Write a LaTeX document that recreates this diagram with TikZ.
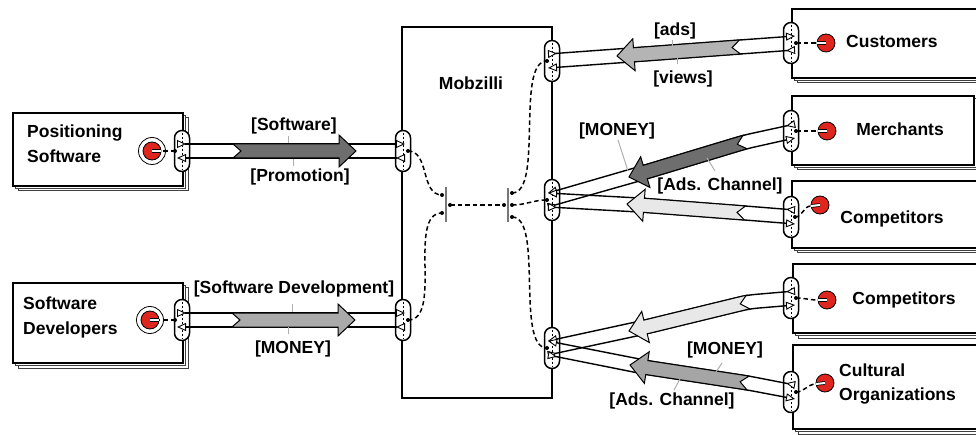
\documentclass[tikz,border=0pt]{standalone}
\usepackage{fontspec}
\setmainfont{Liberation Sans}
\usetikzlibrary{calc,arrows.meta,fit}

\definecolor{sockred}{RGB}{222,38,30}
\definecolor{flowdark}{RGB}{110,110,110}
\definecolor{flowmid}{RGB}{170,170,170}
\definecolor{flowsoft}{RGB}{180,180,180}
\definecolor{flowlight}{RGB}{232,232,232}
\definecolor{flowcult}{RGB}{165,165,165}
\definecolor{leadgray}{RGB}{175,175,175}
\definecolor{bargray}{RGB}{120,120,120}

\tikzset{
  fwd/.tip={Triangle[length=9pt,width=8pt,fill=white,line width=0.9pt]},
  bwd/.tip={Triangle[length=9pt,width=8pt,fill=white,line width=0.9pt,reversed]},
  lbl/.style={font=\fontsize{17.5}{21}\selectfont\bfseries, inner sep=0pt, anchor=base},
  lblw/.style={lbl, anchor=base west},
  actor/.style={draw=black, line width=1.5pt, fill=white, inner sep=0pt},
  sheet/.style={draw=black!75, line width=1pt, fill=white},
  mob/.style={draw=black, line width=1.5pt, inner sep=0pt},
  port/.style={draw=black, line width=1.5pt, fill=white, rectangle, rounded corners=7.4pt,
    minimum width=15pt, minimum height=41pt, inner sep=0pt},
  portmark/.style={draw=black, line width=0.6pt, dash pattern=on 2pt off 2pt},
  chan/.style={draw=black, line width=1.4pt, rounded corners=8pt},
  flowarrow/.style={draw=black, line width=1pt, line join=miter},
  wire/.style={draw=black, line width=1.5pt, dash pattern=on 4.5pt off 3pt},
  jbar/.style={draw=bargray, line width=1.4pt},
  leader/.style={draw=leadgray, line width=1pt},
}

% a box with two stacked sheets behind it
\newcommand{\stackbox}[5]{%
  \draw[sheet] ($(#2,#3)+(5,5)$) rectangle ($(#4,#5)+(5,5)$);
  \draw[sheet] ($(#2,#3)+(2.5,2.5)$) rectangle ($(#4,#5)+(2.5,2.5)$);
  \node[actor, fit={(#2,#3) (#4,#5)}] (#1) {};
}

% geometry of a block arrow: tail centre #2, head tip #3
\newcommand{\flowgeom}[3]{%
  \coordinate (#1-t) at #2;
  \coordinate (#1-h) at #3;
  \coordinate (#1-b) at ($(#1-h)!17pt!(#1-t)$);
  \coordinate (#1-n) at ($(#1-t)!8pt!(#1-h)$);
  \coordinate (#1-tp) at ($(#1-t)!7pt!90:(#1-h)$);
  \coordinate (#1-tm) at ($(#1-t)!7pt!-90:(#1-h)$);
  \coordinate (#1-bp) at ($(#1-b)!7pt!90:(#1-h)$);
  \coordinate (#1-bm) at ($(#1-b)!7pt!-90:(#1-h)$);
  \coordinate (#1-hp) at ($(#1-b)!16pt!90:(#1-h)$);
  \coordinate (#1-hm) at ($(#1-b)!16pt!-90:(#1-h)$);
}
\newcommand{\flowbody}[2]{%
  \draw[flowarrow, fill=#2] (#1-n) -- (#1-tp) -- (#1-bp) -- (#1-hp) -- (#1-h)
    -- (#1-hm) -- (#1-bm) -- (#1-tm) -- cycle;
}

% red socket with its white plug bar; #3 = bar end
\newcommand{\socket}[3]{%
  \coordinate (#1) at #2;
  \draw[fill=sockred, line width=0.8pt] (#1) circle[radius=9pt];
  \draw[line width=3.6pt] (#1) -- #3;
  \draw[white, line width=2pt] (#1) -- #3;
}

\begin{document}
\begin{tikzpicture}[x=1pt,y=-1pt]
\useasboundingbox (0,0) rectangle (976,435);

% ---------- boxes ----------
\stackbox{posbox}{13}{113}{183}{186}
\stackbox{devbox}{13}{283}{183}{363}
\stackbox{custbox}{792}{9}{1000}{78}
\stackbox{merbox}{792}{96}{974}{165}
\stackbox{compbox}{792}{181}{1000}{248}
\stackbox{compboxb}{793}{264}{1000}{333}
\stackbox{cultbox}{793}{345}{1000}{429}
\node[mob, fit={(402,27) (552,398)}] (mob) {};

% ---------- ports ----------
\node[port] (pPos)   at (182,151) {};
\node[port] (pDev)   at (182,320) {};
\node[port] (pL1)    at (403,151) {};
\node[port] (pL2)    at (403,320) {};
\node[port] (pR1)    at (552,61)  {};
\node[port] (pR2)    at (552,200) {};
\node[port] (pR3)    at (552,348) {};
\node[port] (pCust)  at (791,43)  {};
\node[port] (pMer)   at (791,131) {};
\node[port] (pComp)  at (791,217) {};
\node[port] (pCompb) at (791,298) {};
\node[port] (pCult)  at (791,392) {};
\foreach \p in {pPos,pDev,pL1,pL2,pR1,pR2,pR3,pCust,pMer,pComp,pCompb,pCult}
  \draw[portmark] ($(\p.north)+(0,3)$) -- ($(\p.south)+(0,-3)$);

% ---------- internal wiring of Mobzilli ----------
\coordinate (dL1) at (408,151);
\coordinate (dL2) at (408,320);
\coordinate (dR1) at (547,61);
\coordinate (dR2) at (547,200);
\coordinate (dR3) at (547,348);
\coordinate (jla) at (442,195);
\coordinate (jlb) at (442,213);
\coordinate (jlo) at (450,205);
\coordinate (jri) at (504,205);
\coordinate (jra) at (512,193);
\coordinate (jrb) at (512,205);
\coordinate (jrc) at (512,217);
\draw[jbar] (446,187) -- (446,222);
\draw[jbar] (508,188) -- (508,222);
\draw[wire] (dL1) to[out=0,in=180] (jla);
\draw[wire] (dL2) to[out=0,in=180,looseness=0.8] (jlb);
\draw[wire] (jlo) -- (jri);
\draw[wire] (jra) to[out=0,in=180,looseness=0.6] (dR1);
\draw[wire] (jrb) to[out=0,in=180] (dR2);
\draw[wire] (jrc) to[out=0,in=180,looseness=0.6] (dR3);
\foreach \d in {dL1,dL2,dR1,dR2,dR3,jla,jlb,jlo,jri,jra,jrb,jrc}
  \fill (\d) circle[radius=2pt];

% ---------- sockets of the partners ----------
\coordinate (dPos)   at (175,151);
\coordinate (dDev)   at (175,320);
\coordinate (dCust)  at (796,43);
\coordinate (dMer)   at (796,131);
\coordinate (dComp)  at (795,217);
\coordinate (dCompb) at (796,298);
\coordinate (dCult)  at (796,392);

\draw[line width=0.8pt, fill=white] (152,151) circle[radius=13.5pt];
\draw[line width=0.8pt, fill=white] (150,320) circle[radius=13.5pt];
\draw[wire] (dPos) -- (161,151);
\draw[wire] (dDev) -- (159,320);
\draw[wire] (dCust) -- (817,43);
\draw[wire] (dMer) -- (818,131);
\draw[wire] (dComp) to[out=0,in=180] (811,206);
\draw[wire] (dCompb) to[out=0,in=180] (818,300);
\draw[wire] (dCult) to[out=0,in=180] (816,384);
\socket{sPos}{(152,151)}{(161,151)}
\socket{sDev}{(150,320)}{(159,320)}
\socket{sCust}{(826,43)}{(817,43)}
\socket{sMer}{(827,131)}{(818,131)}
\socket{sComp}{(820,205)}{(811,206)}
\socket{sCompb}{(827,300)}{(818,300)}
\socket{sCult}{(825,383)}{(816,384)}
\foreach \d in {dPos,dDev,dCust,dMer,dComp,dCompb,dCult}
  \fill (\d) circle[radius=2pt];

% ---------- flow channels ----------
\flowgeom{sw}{(233,151)}{(356,151)}
\flowgeom{dv}{(232,320)}{(355,320)}
\flowgeom{cu}{(740,47)}{(617,56)}
\flowgeom{me}{(745,142)}{(629,177)}
\flowgeom{co}{(745,213)}{(627,204)}
\flowgeom{cb}{(748,302)}{(629,331)}
\flowgeom{cl}{(748,383)}{(630,365)}

% left partners -> Mobzilli
\draw[chan, {bwd}-{fwd}] ($(pPos)+(-5,-7)$) -- (sw-tp) -- (sw-bp) -- ($(pL1)+(2,-7)$);
\draw[chan, {fwd}-{bwd}] ($(pPos)+(-5,7)$) -- (sw-tm) -- (sw-bm) -- ($(pL1)+(2,7)$);
\draw[chan, {bwd}-{fwd}] ($(pDev)+(-5,-7)$) -- (dv-tp) -- (dv-bp) -- ($(pL2)+(2,-7)$);
\draw[chan, {fwd}-{bwd}] ($(pDev)+(-5,7)$) -- (dv-tm) -- (dv-bm) -- ($(pL2)+(2,7)$);

% Mobzilli -> right partners
\draw[chan, {bwd}-{fwd}] ($(pR1)+(-4,-7)$) -- (cu-bm) -- (cu-tm) -- ($(pCust)+(4,-7)$);
\draw[chan, {fwd}-{bwd}] ($(pR1)+(-4,7)$) -- (cu-bp) -- (cu-tp) -- ($(pCust)+(4,7)$);

\draw[chan, {fwd}-{bwd}] ($(pR2)+(-4,-7)$) -- (me-bm) -- (me-tm) -- ($(pMer)+(4,-7)$);
\draw[chan, {bwd}-{fwd}] ($(pR2)+(-4,7)$) -- (me-bp) -- (me-tp) -- ($(pMer)+(4,7)$);
\draw[chan, {fwd}-{bwd}] ($(pR2)+(-4,-7)$) -- (co-bm) -- (co-tm) -- ($(pComp)+(4,-7)$);
\draw[chan, {bwd}-{fwd}] ($(pR2)+(-4,7)$) -- (co-bp) -- (co-tp) -- ($(pComp)+(4,7)$);

\draw[chan, {fwd}-{bwd}] ($(pR3)+(-4,-7)$) -- (cb-bm) -- (cb-tm) -- ($(pCompb)+(4,-7)$);
\draw[chan, {bwd}-{fwd}] ($(pR3)+(-4,7)$) -- (cb-bp) -- (cb-tp) -- ($(pCompb)+(4,7)$);
\draw[chan, {fwd}-{bwd}] ($(pR3)+(-4,-7)$) -- (cl-bm) -- (cl-tm) -- ($(pCult)+(4,-7)$);
\draw[chan, {bwd}-{fwd}] ($(pR3)+(-4,7)$) -- (cl-bp) -- (cl-tp) -- ($(pCult)+(4,7)$);

% block arrows riding on the channels
\flowbody{sw}{flowdark}
\flowbody{dv}{flowmid}
\flowbody{cu}{flowsoft}
\flowbody{me}{flowdark}
\flowbody{co}{flowlight}
\flowbody{cb}{flowlight}
\flowbody{cl}{flowcult}

% ---------- names ----------
\node[lbl] (mobname) at (471,90) {Mobzilli};
\node[lblw] (posA) at (27,138) {Positioning};
\node[lblw] (posB) at (27,163) {Software};
\node[lblw] (devA) at (23,309) {Software};
\node[lblw] (devB) at (23,334) {Developers};
\node[lblw] (custname) at (846,48) {Customers};
\node[lbl] (mername) at (900,136) {Merchants};
\node[lbl] (compname) at (892,224) {Competitors};
\node[lbl] (compbname) at (904,305) {Competitors};
\node[lblw] (cultA) at (839,376) {Cultural};
\node[lblw] (cultB) at (839,400) {Organizations};

% ---------- flow labels ----------
\node[lbl] (lSoft) at (294,130.5) {[Software]};
\node[lbl] (lProm) at (300,181.5) {[Promotion]};
\node[lbl] (lDev) at (294,293.5) {[Software Development]};
\node[lbl] (lMoneyA) at (293,353.5) {[MONEY]};
\node[lbl] (lAds) at (675,35.5) {[ads]};
\node[lbl] (lViews) at (683,83.5) {[views]};
\node[lbl] (lMoneyB) at (617,135.5) {[MONEY]};
\node[lbl] (lChanA) at (720,190.5) {[Ads. Channel]};
\node[lbl] (lMoneyC) at (725,354.5) {[MONEY]};
\node[lbl] (lChanB) at (672,405.5) {[Ads. Channel]};

\draw[leader] (288,136) -- (288,143);
\draw[leader] (293,159) -- (293,166);
\draw[leader] (292,304) -- (292,312);
\draw[leader] (288,327) -- (288,334);
\draw[leader] (672,40) -- (672,46);
\draw[leader] (677,57) -- (677,64);
\draw[leader] (618,140) -- (628,171);
\draw[leader] (715,171) -- (707,158);
\draw[leader] (722,363) -- (716,372);
\draw[leader] (674,390) -- (680,379);
\end{tikzpicture}
\end{document}
